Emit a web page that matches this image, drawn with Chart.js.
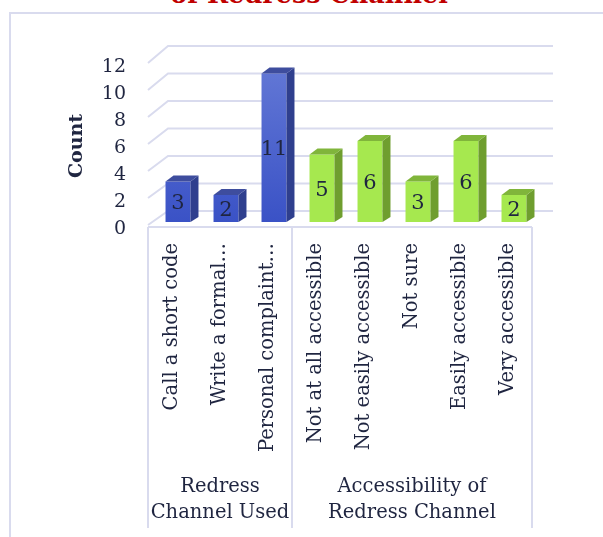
<!DOCTYPE html>
<html>
<head>
<meta charset="utf-8">
<script src="https://cdn.jsdelivr.net/npm/chart.js@4.4.1/dist/chart.umd.min.js"></script>
<style>
  html, body { margin: 0; padding: 0; background: #fff; overflow: hidden; }
  #wrap { position: relative; width: 603px; height: 537px; overflow: hidden; }
  #frame { position: absolute; left: 9px; top: 12px; width: 700px; height: 600px; border: 2px solid #d9dbee; box-sizing: border-box; }
  #title { position: absolute; left: 0; top: -18px; width: 618px; text-align: center;
    font: bold 25.5px/1 "DejaVu Serif", serif; color: #c00000; }
  canvas { position: absolute; left: 0; top: 0; }
</style>
</head>
<body>
<div id="wrap">
  <div id="frame"></div>
  <div id="title">of Redress Channel</div>
  <canvas id="chart" width="603" height="537"></canvas>
</div>
<script>
  // Data
  const categories = ['Call a short code', 'Write a formal…', 'Personal complaint…',
    'Not at all accessible', 'Not easily accessible', 'Not sure', 'Easily accessible', 'Very accessible'];
  const counts = [3, 2, 11, 5, 6, 3, 6, 2];
  const groupSizes = [3, 5];
  const groupLabels = [['Redress', 'Channel Used'], ['Accessibility of', 'Redress Channel']];
  const yMax = 12;
  const yStep = 2;

  const textColor = '#1f2540';
  const gridColor = '#d9dbee';
  const serif = '"DejaVu Serif", serif';

  // which group each bar belongs to (0 = blue, 1 = green)
  const groupOf = [];
  groupSizes.forEach((n, g) => { for (let i = 0; i < n; i++) groupOf.push(g); });

  const faceColors = [
    { side: '#2f3f8e', top: '#3e4d9e' },
    { side: '#6f9e2f', top: '#80b53b' }
  ];

  function frontColor(c) {
    const g = groupOf[c.dataIndex];
    if (g === 1) return '#a6e84f';
    const { ctx, chartArea } = c.chart;
    if (!chartArea) return '#4a60cc';
    const grad = ctx.createLinearGradient(0, chartArea.top, 0, chartArea.bottom);
    grad.addColorStop(0, '#6479d6');
    grad.addColorStop(1, '#3a52c6');
    return grad;
  }

  const shiftX = 6;   // bars sit a little right of the category centre
  const depthX = 8, depthY = 6;

  const threeD = {
    id: 'threeD',
    beforeDatasetsDraw(chart) {
      const { ctx, scales: { x, y } } = chart;
      // back wall grid lines
      ctx.save();
      ctx.strokeStyle = gridColor;
      ctx.lineWidth = 2;
      y.ticks.forEach((t) => {
        const py = y.getPixelForValue(t.value);
        const back = py - 11 - t.value * 0.25;
        ctx.beginPath();
        ctx.moveTo(x.left, py + 3);
        ctx.lineTo(x.left + 20, back);
        ctx.lineTo(x.right + 21, back);
        ctx.stroke();
      });
      ctx.restore();
      ctx.save();
      ctx.translate(shiftX, 0);
    },
    afterDatasetsDraw(chart) {
      const { ctx } = chart;
      const meta = chart.getDatasetMeta(0);
      meta.data.forEach((bar, i) => {
        const { x, y, base, width } = bar.getProps(['x', 'y', 'base', 'width'], true);
        const l = x - width / 2, r = x + width / 2;
        const col = faceColors[groupOf[i]];
        // side face
        ctx.fillStyle = col.side;
        ctx.beginPath();
        ctx.moveTo(r, y);
        ctx.lineTo(r + depthX, y - depthY);
        ctx.lineTo(r + depthX, base - 5);
        ctx.lineTo(r, base);
        ctx.closePath();
        ctx.fill();
        // top face
        ctx.fillStyle = col.top;
        ctx.beginPath();
        ctx.moveTo(l, y);
        ctx.lineTo(l + depthX, y - depthY);
        ctx.lineTo(r + depthX, y - depthY);
        ctx.lineTo(r, y);
        ctx.closePath();
        ctx.fill();
        // value label
        ctx.fillStyle = textColor;
        ctx.font = '21px ' + serif;
        ctx.textAlign = 'center';
        ctx.textBaseline = 'middle';
        ctx.fillText(String(counts[i]), x, (y + base) / 2 + 2);
      });
      ctx.restore();
    },
    afterDraw(chart) {
      const { ctx, scales: { x }, chartArea } = chart;
      const step = x.getPixelForValue(1) - x.getPixelForValue(0);
      const top = chartArea.bottom + 5;
      const bottom = 528;
      ctx.save();
      ctx.strokeStyle = gridColor;
      ctx.lineWidth = 2;
      ctx.beginPath();
      ctx.moveTo(x.left, top);
      ctx.lineTo(x.right, top);
      ctx.stroke();
      let start = 0;
      const edges = [x.getPixelForValue(0) - step / 2];
      groupSizes.forEach((n) => {
        start += n;
        edges.push(x.getPixelForValue(start - 1) + step / 2);
      });
      edges.forEach((ex) => {
        ctx.beginPath();
        ctx.moveTo(ex, top);
        ctx.lineTo(ex, bottom);
        ctx.stroke();
      });
      ctx.fillStyle = textColor;
      ctx.font = '19.5px ' + serif;
      ctx.textAlign = 'center';
      ctx.textBaseline = 'middle';
      groupLabels.forEach((lines, g) => {
        const cx = (edges[g] + edges[g + 1]) / 2;
        lines.forEach((line, k) => ctx.fillText(line, cx, 487 + k * 26));
      });
      // y axis title
      ctx.translate(77, (chartArea.top + chartArea.bottom) / 2 + 5);
      ctx.rotate(-Math.PI / 2);
      ctx.font = 'bold 19px ' + serif;
      ctx.fillText('Count', 0, 0);
      ctx.restore();
    }
  };

  new Chart(document.getElementById('chart'), {
    type: 'bar',
    data: {
      labels: categories,
      datasets: [{
        data: counts,
        backgroundColor: frontColor,
        borderWidth: 0,
        barPercentage: 0.52,
        categoryPercentage: 1,
        clip: false
      }]
    },
    options: {
      responsive: false,
      animation: false,
      devicePixelRatio: 1,
      layout: { padding: { left: 0, top: 60, right: 71, bottom: 0 } },
      plugins: { legend: { display: false }, tooltip: { enabled: false }, title: { display: false } },
      scales: {
        x: {
          grid: { display: false, drawTicks: false },
          border: { display: false },
          ticks: {
            autoSkip: false,
            minRotation: 90,
            maxRotation: 90,
            padding: 21,
            color: textColor,
            font: { family: serif, size: 19.5 }
          },
          afterFit(scale) { scale.height = 537 - 222; }
        },
        y: {
          min: 0,
          max: yMax,
          grid: { display: false, drawTicks: false },
          border: { display: false },
          ticks: {
            stepSize: yStep,
            padding: 22,
            labelOffset: 7,
            color: textColor,
            font: { family: serif, size: 19 }
          },
          afterFit(scale) { scale.width = 148; }
        }
      }
    },
    plugins: [threeD]
  });
</script>
</body>
</html>
